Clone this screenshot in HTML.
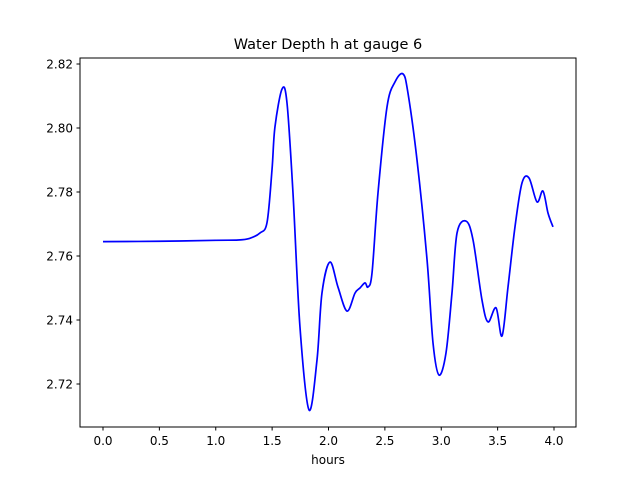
<!DOCTYPE html>
<html><head><meta charset="utf-8"><style>
body{margin:0;background:#fff}
svg text{font-family:"DejaVu Sans","Liberation Sans",sans-serif;fill:#000}
</style></head><body>
<svg width="640" height="480" xmlns="http://www.w3.org/2000/svg">
<rect width="640" height="480" fill="#fff"/>
<text x="328" y="49" font-size="14.5" text-anchor="middle">Water Depth h at gauge 6</text>
<g id="xt"></g>
<g id="yt"></g>
<path id="line" fill="none" stroke="#0000ff" stroke-width="1.7"/>
<rect x="80" y="58" width="496" height="369" fill="none" stroke="#000" stroke-width="1"/>
<text x="328" y="464" font-size="12" text-anchor="middle">hours</text>
</svg>
<script>
const hours=[0,0.5,1.0,1.2,1.3,1.392,1.455,1.499,1.525,1.588,1.632,1.685,1.747,1.827,1.898,1.942,2.013,2.084,2.164,2.235,2.279,2.324,2.350,2.386,2.439,2.519,2.590,2.661,2.705,2.785,2.874,2.927,2.980,3.042,3.095,3.140,3.220,3.282,3.361,3.415,3.486,3.539,3.592,3.654,3.716,3.778,3.849,3.902,3.947,3.991];
const depth=[2.7645,2.7646,2.7649,2.765,2.7655,2.7672,2.7705,2.787,2.8003,2.8122,2.8078,2.7797,2.7378,2.7119,2.7275,2.7484,2.7581,2.7503,2.7428,2.7484,2.75,2.7516,2.7503,2.7547,2.7797,2.8066,2.8144,2.8169,2.8109,2.79,2.7588,2.7328,2.7228,2.7297,2.7484,2.7672,2.7709,2.765,2.7463,2.7394,2.7438,2.735,2.7503,2.7691,2.7828,2.7844,2.7769,2.7803,2.7734,2.7691];
const xTicks=[0,0.5,1,1.5,2,2.5,3,3.5,4];
const xTickLabels=["0.0","0.5","1.0","1.5","2.0","2.5","3.0","3.5","4.0"];
const yTicks=[2.72,2.74,2.76,2.78,2.80,2.82];
const yTickLabels=["2.72","2.74","2.76","2.78","2.80","2.82"];
const NS="http://www.w3.org/2000/svg";
const X=t=>103+t*112.75, Y=v=>384-(v-2.72)*3200;
const xt=document.getElementById('xt'), yt=document.getElementById('yt');
xTicks.forEach((t,i)=>{
 const l=document.createElementNS(NS,'line');
 
 
 l.setAttribute('x1',X(t));l.setAttribute('x2',X(t));l.setAttribute('y1',427);l.setAttribute('y2',430.5);l.setAttribute('stroke','#000');
 xt.appendChild(l);
 const tx=document.createElementNS(NS,'text');
 
 
 tx.setAttribute('x',X(t));tx.setAttribute('y',445);tx.setAttribute('font-size','12');tx.setAttribute('text-anchor','middle');
 tx.textContent=xTickLabels[i];xt.appendChild(tx);
});
yTicks.forEach((v,i)=>{
 const l=document.createElementNS(NS,'line');
 
 
 l.setAttribute('x1',76.5);l.setAttribute('x2',80);l.setAttribute('y1',Y(v));l.setAttribute('y2',Y(v));l.setAttribute('stroke','#000');
 yt.appendChild(l);
 const tx=document.createElementNS(NS,'text');
 
 
 tx.setAttribute('x',73);tx.setAttribute('y',Y(v)+4.5);tx.setAttribute('font-size','12');tx.setAttribute('text-anchor','end');
 tx.textContent=yTickLabels[i];yt.appendChild(tx);
});
const P=hours.map((t,i)=>[X(t),Y(depth[i])]);
let d='M'+P[0][0]+','+P[0][1];
for(let i=0;i<P.length-1;i++){
 const p0=P[Math.max(0,i-1)],p1=P[i],p2=P[i+1],p3=P[Math.min(P.length-1,i+2)];
 const c1=[p1[0]+(p2[0]-p0[0])/6,p1[1]+(p2[1]-p0[1])/6];
 const c2=[p2[0]-(p3[0]-p1[0])/6,p2[1]-(p3[1]-p1[1])/6];
 d+=`C${c1[0]},${c1[1]} ${c2[0]},${c2[1]} ${p2[0]},${p2[1]}`;
}
document.getElementById('line').setAttribute('d',d);
</script>
</body></html>
